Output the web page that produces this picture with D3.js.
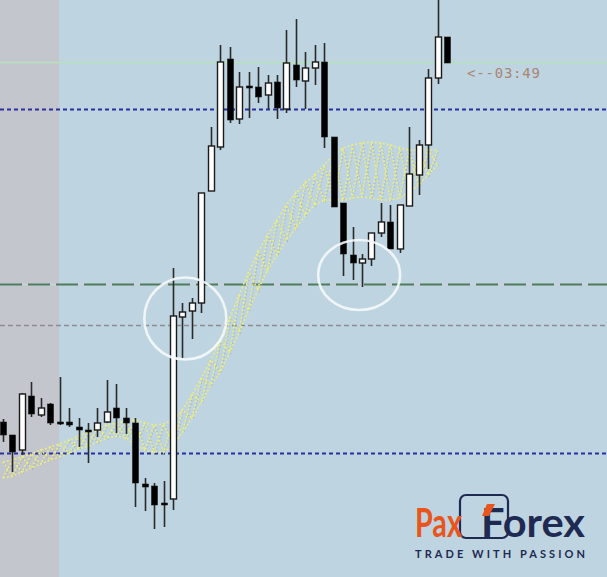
<!DOCTYPE html>
<html><head><meta charset="utf-8">
<script src="https://cdn.jsdelivr.net/npm/d3@7/dist/d3.min.js"></script>
<style>html,body{margin:0;padding:0;background:#bed4e0;} svg{display:block;}</style>
</head><body><svg id="chart" width="607" height="577"></svg>
<script>
// ---- data (prices) ----
const opens  = [1.0955,1.0942,1.0927,1.0981,1.0962,1.0973,1.0955,1.0955,1.0950,1.0947,1.0947,1.0955,1.0969,1.0959,1.0954,1.0893,1.0891,1.0874,1.0878,1.1060,1.1066,1.1074,1.1186,1.1230,1.1318,1.1258,1.1291,1.1290,1.1282,1.1295,1.1268,1.1312,1.1296,1.1309,1.1315,1.1240,1.1174,1.1122,1.1114,1.1118,1.1144,1.1155,1.1128,1.1171,1.1202,1.1232,1.1299,1.1340];
const highs  = [1.0958,1.0942,1.0984,1.0995,1.0979,1.0974,1.1000,1.0969,1.0959,1.0954,1.0969,1.0997,1.0993,1.0969,1.0959,1.0899,1.0894,1.0896,1.1109,1.1074,1.1079,1.1184,1.1250,1.1332,1.1330,1.1305,1.1305,1.1310,1.1302,1.1302,1.1347,1.1358,1.1325,1.1332,1.1334,1.1240,1.1174,1.1150,1.1123,1.1144,1.1174,1.1172,1.1172,1.1250,1.1237,1.1308,1.1385,1.1340];
const lows   = [1.0935,1.0905,1.0922,1.0960,1.0960,1.0952,1.0952,1.0950,1.0930,1.0914,1.0940,1.0954,1.0944,1.0943,1.0870,1.0866,1.0848,1.0850,1.0867,1.1019,1.1038,1.1064,1.1186,1.1227,1.1254,1.1253,1.1259,1.1274,1.1268,1.1258,1.1264,1.1290,1.1268,1.1292,1.1229,1.1170,1.1101,1.1097,1.1090,1.1111,1.1140,1.1128,1.1124,1.1171,1.1182,1.1208,1.1293,1.1314];
const closes = [1.0942,1.0925,1.0983,1.0963,1.0969,1.0954,1.0953,1.0952,1.0947,1.0945,1.0954,1.0965,1.0959,1.0954,1.0894,1.0890,1.0872,1.0872,1.1061,1.1065,1.1074,1.1184,1.1231,1.1315,1.1257,1.1290,1.1289,1.1280,1.1294,1.1269,1.1314,1.1297,1.1309,1.1315,1.1240,1.1170,1.1123,1.1114,1.1118,1.1144,1.1155,1.1128,1.1172,1.1203,1.1232,1.1299,1.1340,1.1314];

// moving-average envelope (upper / lower edge of the dotted band)
const maUpper = [1.0915,1.0917,1.0920,1.0923,1.0927,1.0930,1.0933,1.0937,1.0941,1.0945,1.0949,1.0952,1.0954,1.0956,1.0957,1.0954,1.0952,1.0953,1.0957,1.0967,1.0982,1.0999,1.1017,1.1037,1.1059,1.1082,1.1105,1.1125,1.1142,1.1157,1.1172,1.1184,1.1194,1.1202,1.1212,1.1222,1.1229,1.1232,1.1234,1.1235,1.1234,1.1232,1.1229,1.1227,1.1227,1.1227,1.1227];
const maLower = [1.0899,1.0901,1.0905,1.0909,1.0913,1.0917,1.0920,1.0924,1.0928,1.0931,1.0935,1.0939,1.0941,1.0939,1.0932,1.0927,1.0925,1.0925,1.0932,1.0945,1.0959,1.0975,1.0992,1.1005,1.1025,1.1045,1.1067,1.1087,1.1107,1.1122,1.1137,1.1149,1.1162,1.1172,1.1177,1.1177,1.1177,1.1179,1.1180,1.1179,1.1177,1.1177,1.1179,1.1185,1.1192,1.1202,1.1212];

// horizontal levels
const levelPrices = [1.1315, 1.1268, 1.1093, 1.1052, 1.0924];
const levelKinds  = ["bid", "blueDash", "greenDash", "grayDash", "blueDash"];

// shaded session (candle index where shading ends)
const shadeEndIndex = 6;

// annotation circles (candle index, price)
const circleIndex = [19.3, 37.7];
const circlePrice = [1.10585, 1.1102];

const timerLabel = "<--03:49";
const logoLeft = "Pax", logoRight = "Forex", tagline = "TRADE WITH PASSION";

// ---- scales ----
const W = 607, H = 577;
const svg = d3.select("#chart");
const x = d3.scaleLinear().domain([0, 47]).range([3, 447]);
const y = d3.scaleLinear().domain([1.0800, 1.1377]).range([H, 0]);

// backgrounds
svg.append("rect").attr("x",0).attr("y",0).attr("width",W).attr("height",H).attr("fill","#bed4e0");
svg.append("rect").attr("x",0).attr("y",0).attr("width",x(shadeEndIndex)-0.5).attr("height",H).attr("fill","#c4c6ce");

// levels
const lv = svg.append("g");
levelPrices.forEach((p,i)=>{
  const k = levelKinds[i], yy = Math.round(y(p))+0.5;
  if (k==="bid") lv.append("line").attr("x1",0).attr("x2",W).attr("y1",yy).attr("y2",yy).attr("stroke","#b4e2bc").attr("stroke-width",1.5);
  if (k==="blueDash") lv.append("line").attr("x1",0).attr("x2",W).attr("y1",yy).attr("y2",yy).attr("stroke","#2b2fa0").attr("stroke-width",2).attr("stroke-dasharray","4,3");
  if (k==="greenDash") {
    lv.append("line").attr("x1",0).attr("x2",W).attr("y1",yy).attr("y2",yy).attr("stroke","#c9d2d9").attr("stroke-width",2);
    lv.append("line").attr("x1",0).attr("x2",W).attr("y1",yy).attr("y2",yy).attr("stroke","#4e7d5e").attr("stroke-width",2).attr("stroke-dasharray","22,6");
  }
  if (k==="grayDash") lv.append("line").attr("x1",0).attr("x2",W).attr("y1",yy).attr("y2",yy).attr("stroke","#8c8c92").attr("stroke-width",1.5).attr("stroke-dasharray","5,3");
});

// MA band (dotted zigzag texture between upper and lower)
const band = svg.append("g");
const idx = d3.range(maUpper.length);
function zig(phase){
  return idx.map(i=>[x(i), y(((i+phase)%2===0)?maUpper[i]:maLower[i])]);
}
const line = d3.line();
[0,1].forEach(ph=>{
  band.append("path").attr("d",line(zig(ph).map(p=>[p[0]+1,p[1]+1]))).attr("fill","none").attr("stroke","#9aa6b4").attr("stroke-width",1.4).attr("stroke-dasharray","1.5,2").attr("opacity",0.55);
});
[0,1].forEach(ph=>{
  band.append("path").attr("d",line(zig(ph))).attr("fill","none").attr("stroke","#eeee7a").attr("stroke-width",1.6).attr("stroke-dasharray","1.8,2");
});
[maUpper, maLower].forEach(arr=>{
  band.append("path").attr("d",line(arr.map((v,i)=>[x(i),y(v)]))).attr("fill","none").attr("stroke","#eeee7a").attr("stroke-width",1.6).attr("stroke-dasharray","1.8,2.2");
});

// candles
const data = opens.map((o,i)=>({i,o,h:highs[i],l:lows[i],c:closes[i]}));
const cg = svg.append("g");
const bw = 6;
cg.selectAll("line.w").data(data).join("line")
  .attr("x1",d=>Math.round(x(d.i))+0.5).attr("x2",d=>Math.round(x(d.i))+0.5)
  .attr("y1",d=>y(d.h)).attr("y2",d=>y(d.l))
  .attr("stroke","#2a2a2a").attr("stroke-width",1.6);
cg.selectAll("rect.b").data(data).join("rect")
  .attr("x",d=>Math.round(x(d.i))+0.5-bw/2)
  .attr("y",d=>y(Math.max(d.o,d.c)))
  .attr("width",bw)
  .attr("height",d=>Math.max(2, Math.abs(y(d.o)-y(d.c))))
  .attr("fill",d=>d.c>=d.o?"#ffffff":"#000000")
  .attr("stroke","#1a1a1a").attr("stroke-width",d=>d.c>=d.o?1.4:0.6);

// circles
circleIndex.forEach((ci,k)=>{
  svg.append("ellipse").attr("cx",x(ci)).attr("cy",y(circlePrice[k]))
    .attr("rx",41).attr("ry",k===0?41:35)
    .attr("fill","none").attr("stroke","#f4f8fb").attr("stroke-width",2.6).attr("opacity",0.9);
});

// timer label
svg.append("text").attr("x",x(47)+20).attr("y",y(levelPrices[0])+15.5)
  .attr("font-family","DejaVu Sans Mono, monospace").attr("font-size",14)
  .attr("fill","#a88672").attr("textLength",73).attr("lengthAdjust","spacing").text(timerLabel);

// logo
const lg = svg.append("g");
const logoFont = "Lato, Roboto, 'DejaVu Sans', sans-serif";
lg.append("rect").attr("x",460).attr("y",495).attr("width",48).attr("height",43).attr("rx",6)
  .attr("fill","none").attr("stroke","#1e2a52").attr("stroke-width",2.2);
lg.append("text").attr("x",415).attr("y",537).attr("font-family",logoFont).attr("font-weight",700)
  .attr("font-size",41).attr("fill","#e8561e").attr("textLength",47).attr("lengthAdjust","spacingAndGlyphs").text(logoLeft);
lg.append("text").attr("x",481).attr("y",537).attr("font-family",logoFont).attr("font-weight",700)
  .attr("font-size",41).attr("fill","#1e2a52").attr("textLength",104).attr("lengthAdjust","spacingAndGlyphs").text(logoRight);
lg.append("path").attr("d","M487,504 L495,504 L489,516 L482,516 Z").attr("fill","#e8561e");
lg.append("text").attr("x",415).attr("y",558).attr("font-family",logoFont).attr("font-weight",700)
  .attr("font-size",11).attr("fill","#1e2a52").attr("textLength",170).attr("lengthAdjust","spacing").text(tagline);
</script></body></html>
